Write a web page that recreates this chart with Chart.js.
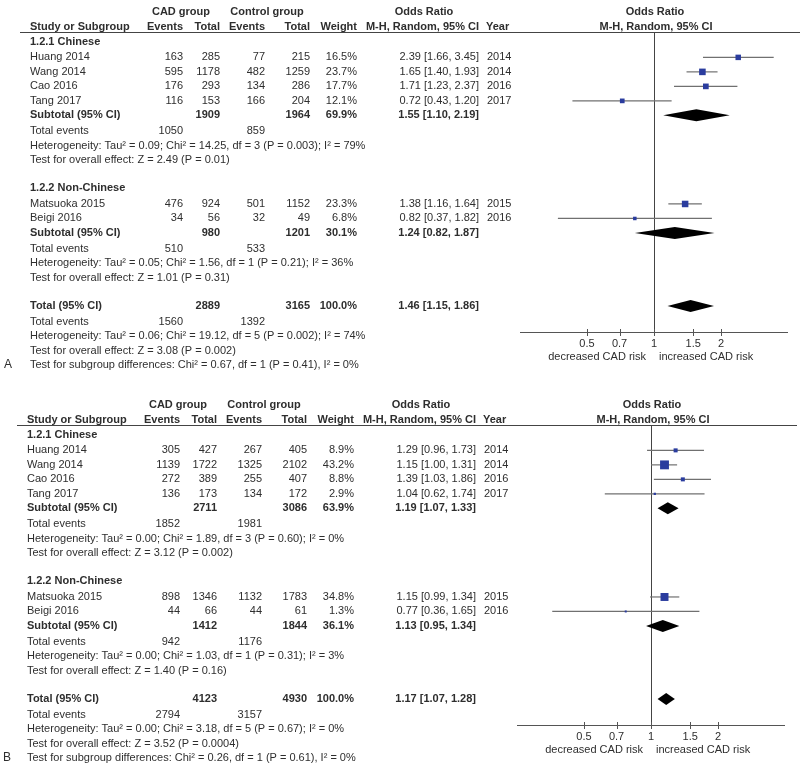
<!DOCTYPE html>
<html>
<head>
<meta charset="utf-8">
<script src="https://cdn.jsdelivr.net/npm/chart.js@4.4.1/dist/chart.umd.min.js"></script>
<style>
  body { margin: 0; background: #fff; }
  .wrap { position: relative; width: 800px; height: 769px; overflow: hidden; }
  #panelA { position: absolute; left: 0; top: 0; }
  #panelB { position: absolute; left: -3px; top: 393px; }
</style>
</head>
<body>
<div class="wrap">
  <canvas id="panelA" width="800" height="393"></canvas>
  <canvas id="panelB" width="800" height="376"></canvas>
</div>
<script>
// ---------- shared ----------
const studies = ["Huang 2014", "Wang 2014", "Cao 2016", "Tang 2017", "Matsuoka 2015", "Beigi 2016"];
const years = [2014, 2014, 2016, 2017, 2015, 2016];
const subgroupOf = [0, 0, 0, 0, 1, 1];
const subgroupNames = ["1.2.1 Chinese", "1.2.2 Non-Chinese"];
const xTicks = [0.5, 0.7, 1, 1.5, 2];
const xRange = [0.25, 4];
const captions = ["decreased CAD risk", "increased CAD risk"];

// ---------- panel A ----------
const aCadEvents = [163, 595, 176, 116, 476, 34];
const aCadTotal = [285, 1178, 293, 153, 924, 56];
const aCtrlEvents = [77, 482, 134, 166, 501, 32];
const aCtrlTotal = [215, 1259, 286, 204, 1152, 49];
const aWeight = [16.5, 23.7, 17.7, 12.1, 23.3, 6.8];
const aOR = [2.39, 1.65, 1.71, 0.72, 1.38, 0.82];
const aLower = [1.66, 1.40, 1.23, 0.43, 1.16, 0.37];
const aUpper = [3.45, 1.93, 2.37, 1.20, 1.64, 1.82];
// pooled: Chinese, Non-Chinese, Total
const aPoolOR = [1.55, 1.24, 1.46];
const aPoolLower = [1.10, 0.82, 1.15];
const aPoolUpper = [2.19, 1.87, 1.86];
const aPoolCadTotal = [1909, 980, 2889];
const aPoolCtrlTotal = [1964, 1201, 3165];
const aPoolWeight = [69.9, 30.1, 100.0];
const aPoolCadEvents = [1050, 510, 1560];
const aPoolCtrlEvents = [859, 533, 1392];
const aHet = [
  "Tau² = 0.09; Chi² = 14.25, df = 3 (P = 0.003); I² = 79%",
  "Tau² = 0.05; Chi² = 1.56, df = 1 (P = 0.21); I² = 36%",
  "Tau² = 0.06; Chi² = 19.12, df = 5 (P = 0.002); I² = 74%"
];
const aZ = ["Z = 2.49 (P = 0.01)", "Z = 1.01 (P = 0.31)", "Z = 3.08 (P = 0.002)"];
const aSubgroupTest = "Chi² = 0.67, df = 1 (P = 0.41), I² = 0%";

// ---------- panel B ----------
const bCadEvents = [305, 1139, 272, 136, 898, 44];
const bCadTotal = [427, 1722, 389, 173, 1346, 66];
const bCtrlEvents = [267, 1325, 255, 134, 1132, 44];
const bCtrlTotal = [405, 2102, 407, 172, 1783, 61];
const bWeight = [8.9, 43.2, 8.8, 2.9, 34.8, 1.3];
const bOR = [1.29, 1.15, 1.39, 1.04, 1.15, 0.77];
const bLower = [0.96, 1.00, 1.03, 0.62, 0.99, 0.36];
const bUpper = [1.73, 1.31, 1.86, 1.74, 1.34, 1.65];
const bPoolOR = [1.19, 1.13, 1.17];
const bPoolLower = [1.07, 0.95, 1.07];
const bPoolUpper = [1.33, 1.34, 1.28];
const bPoolCadTotal = [2711, 1412, 4123];
const bPoolCtrlTotal = [3086, 1844, 4930];
const bPoolWeight = [63.9, 36.1, 100.0];
const bPoolCadEvents = [1852, 942, 2794];
const bPoolCtrlEvents = [1981, 1176, 3157];
const bHet = [
  "Tau² = 0.00; Chi² = 1.89, df = 3 (P = 0.60); I² = 0%",
  "Tau² = 0.00; Chi² = 1.03, df = 1 (P = 0.31); I² = 3%",
  "Tau² = 0.00; Chi² = 3.18, df = 5 (P = 0.67); I² = 0%"
];
const bZ = ["Z = 3.12 (P = 0.002)", "Z = 1.40 (P = 0.16)", "Z = 3.52 (P = 0.0004)"];
const bSubgroupTest = "Chi² = 0.26, df = 1 (P = 0.61), I² = 0%";

const FONT = "'Liberation Sans', Arial, sans-serif";
const TEXT = "#2e2e2e";
const BLUE = "#2a3c9e";

// row positions (in row units) for the table / plot
function layoutRows() {
  const r = { group: [], study: [], pooled: [], events: [], het: [], z: [] };
  let y = 0;
  subgroupNames.forEach((name, g) => {
    r.group[g] = y; y += 1.08;
    subgroupOf.forEach((sg, i) => {
      if (sg === g) { r.study[i] = y; y += 1; }
    });
    r.pooled[g] = y; y += 1.08;
    r.events[g] = y; y += 1;
    r.het[g] = y; y += 1;
    r.z[g] = y; y += 1.95;
  });
  const t = subgroupNames.length;
  r.pooled[t] = y; y += 1.08;
  r.events[t] = y; y += 1;
  r.het[t] = y; y += 1;
  r.z[t] = y; y += 1;
  r.subTest = y;
  return r;
}

function fmtOR(or, lo, hi) {
  return or.toFixed(2) + " [" + lo.toFixed(2) + ", " + hi.toFixed(2) + "]";
}

function drawPanel(canvasId, letter, letterX, d) {
  const rows = layoutRows();
  const canvas = document.getElementById(canvasId);

  const px = (v) => Math.round(v) + 0.5;

  const forestPlugin = {
    id: "forest" + letter,
    beforeDatasetsDraw(chart) {
      const { ctx, chartArea: a, scales: { x, y } } = chart;
      const x1 = x.getPixelForValue(1);
      ctx.save();
      ctx.lineWidth = 1;

      // header rule
      ctx.strokeStyle = "#444";
      ctx.beginPath();
      ctx.moveTo(20, px(a.top));
      ctx.lineTo(chart.width, px(a.top));
      ctx.stroke();

      // line of no effect
      ctx.beginPath();
      ctx.moveTo(px(x1), a.top);
      ctx.lineTo(px(x1), a.bottom);
      ctx.stroke();

      // x axis + ticks
      ctx.strokeStyle = "#555";
      ctx.beginPath();
      ctx.moveTo(a.left, px(a.bottom));
      ctx.lineTo(a.right, px(a.bottom));
      xTicks.forEach((v) => {
        const tx = px(x.getPixelForValue(v));
        ctx.moveTo(tx, a.bottom - 3);
        ctx.lineTo(tx, a.bottom + 4);
      });
      ctx.stroke();

      // pooled diamonds
      ctx.fillStyle = "#000";
      d.poolOR.forEach((or, k) => {
        const py = y.getPixelForValue(rows.pooled[k]);
        ctx.beginPath();
        ctx.moveTo(x.getPixelForValue(d.poolLower[k]), py);
        ctx.lineTo(x.getPixelForValue(or), py - 6);
        ctx.lineTo(x.getPixelForValue(d.poolUpper[k]), py);
        ctx.lineTo(x.getPixelForValue(or), py + 6);
        ctx.closePath();
        ctx.fill();
      });
      ctx.restore();
    },
    afterDraw(chart) {
      const { ctx, chartArea: a, scales: { x, y } } = chart;
      const x1 = x.getPixelForValue(1);
      const put = (s, tx, ty, align, bold) => {
        ctx.font = (bold ? "bold " : "") + "11px " + FONT;
        ctx.textAlign = align;
        ctx.fillText(String(s), tx, ty);
      };
      ctx.save();
      ctx.fillStyle = TEXT;
      ctx.textBaseline = "middle";

      // headers
      const h1 = y.getPixelForValue(-2.05);
      const h2 = y.getPixelForValue(-1.02);
      put("CAD group", 181, h1, "center", true);
      put("Control group", 267, h1, "center", true);
      put("Odds Ratio", 424, h1, "center", true);
      put("Odds Ratio", x1 + 1, h1, "center", true);
      put("Study or Subgroup", 30, h2, "left", true);
      put("Events", 183, h2, "right", true);
      put("Total", 220, h2, "right", true);
      put("Events", 265, h2, "right", true);
      put("Total", 310, h2, "right", true);
      put("Weight", 357, h2, "right", true);
      put("M-H, Random, 95% CI", 479, h2, "right", true);
      put("Year", 486, h2, "left", true);
      put("M-H, Random, 95% CI", x1 + 2, h2, "center", true);

      // subgroup labels
      subgroupNames.forEach((name, g) => put(name, 30, y.getPixelForValue(rows.group[g]), "left", true));

      // studies
      studies.forEach((s, i) => {
        const ty = y.getPixelForValue(rows.study[i]);
        put(s, 30, ty, "left", false);
        put(d.cadEvents[i], 183, ty, "right", false);
        put(d.cadTotal[i], 220, ty, "right", false);
        put(d.ctrlEvents[i], 265, ty, "right", false);
        put(d.ctrlTotal[i], 310, ty, "right", false);
        put(d.weight[i].toFixed(1) + "%", 357, ty, "right", false);
        put(fmtOR(d.or[i], d.lower[i], d.upper[i]), 479, ty, "right", false);
        put(years[i], 487, ty, "left", false);
      });

      // pooled rows
      d.poolOR.forEach((or, k) => {
        const ty = y.getPixelForValue(rows.pooled[k]);
        const label = k < subgroupNames.length ? "Subtotal (95% CI)" : "Total (95% CI)";
        put(label, 30, ty, "left", true);
        put(d.poolCadTotal[k], 220, ty, "right", true);
        put(d.poolCtrlTotal[k], 310, ty, "right", true);
        put(d.poolWeight[k].toFixed(1) + "%", 357, ty, "right", true);
        put(fmtOR(or, d.poolLower[k], d.poolUpper[k]), 479, ty, "right", true);

        const ey = y.getPixelForValue(rows.events[k]);
        put("Total events", 30, ey, "left", false);
        put(d.poolCadEvents[k], 183, ey, "right", false);
        put(d.poolCtrlEvents[k], 265, ey, "right", false);

        put("Heterogeneity: " + d.het[k], 30, y.getPixelForValue(rows.het[k]), "left", false);
        put("Test for overall effect: " + d.z[k], 30, y.getPixelForValue(rows.z[k]), "left", false);
      });
      const sy = y.getPixelForValue(rows.subTest);
      put("Test for subgroup differences: " + d.subgroupTest, 30, sy, "left", false);

      // panel letter
      ctx.font = "12px " + FONT;
      ctx.textAlign = "left";
      ctx.fillText(letter, letterX, sy);

      // axis labels
      xTicks.forEach((v) => put(String(v), x.getPixelForValue(v), a.bottom + 12, "center", false));
      put(captions[0], x1 - 8, a.bottom + 25, "right", false);
      put(captions[1], x1 + 5, a.bottom + 25, "left", false);
      ctx.restore();
    }
  };

  const ciSets = studies.map((s, i) => ({
    data: [{ x: d.lower[i], y: rows.study[i] }, { x: d.upper[i], y: rows.study[i] }],
    showLine: true,
    borderColor: "#707070",
    borderWidth: 1.2,
    pointRadius: 0,
    order: 2
  }));

  const squares = {
    data: studies.map((s, i) => ({ x: d.or[i], y: rows.study[i] })),
    pointStyle: "rect",
    pointRadius: d.weight.map((w) => Math.max(2, 1.35 * Math.sqrt(w)) / 1.414),
    backgroundColor: BLUE,
    borderWidth: 0,
    order: 1
  };

  new Chart(canvas, {
    type: "scatter",
    data: { datasets: [squares, ...ciSets] },
    options: {
      responsive: false,
      animation: false,
      devicePixelRatio: 1,
      events: [],
      layout: { padding: { left: 520, right: 12, top: 32, bottom: canvas.height - 332 } },
      scales: {
        x: { type: "logarithmic", min: xRange[0], max: xRange[1], display: false },
        y: { type: "linear", reverse: true, min: -0.67, max: 20.02, display: false }
      },
      plugins: { legend: { display: false }, tooltip: { enabled: false } }
    },
    plugins: [forestPlugin]
  });
}

drawPanel("panelA", "A", 4, {
  cadEvents: aCadEvents, cadTotal: aCadTotal, ctrlEvents: aCtrlEvents, ctrlTotal: aCtrlTotal,
  weight: aWeight, or: aOR, lower: aLower, upper: aUpper,
  poolOR: aPoolOR, poolLower: aPoolLower, poolUpper: aPoolUpper,
  poolCadTotal: aPoolCadTotal, poolCtrlTotal: aPoolCtrlTotal, poolWeight: aPoolWeight,
  poolCadEvents: aPoolCadEvents, poolCtrlEvents: aPoolCtrlEvents,
  het: aHet, z: aZ, subgroupTest: aSubgroupTest
});

drawPanel("panelB", "B", 6, {
  cadEvents: bCadEvents, cadTotal: bCadTotal, ctrlEvents: bCtrlEvents, ctrlTotal: bCtrlTotal,
  weight: bWeight, or: bOR, lower: bLower, upper: bUpper,
  poolOR: bPoolOR, poolLower: bPoolLower, poolUpper: bPoolUpper,
  poolCadTotal: bPoolCadTotal, poolCtrlTotal: bPoolCtrlTotal, poolWeight: bPoolWeight,
  poolCadEvents: bPoolCadEvents, poolCtrlEvents: bPoolCtrlEvents,
  het: bHet, z: bZ, subgroupTest: bSubgroupTest
});
</script>
</body>
</html>
